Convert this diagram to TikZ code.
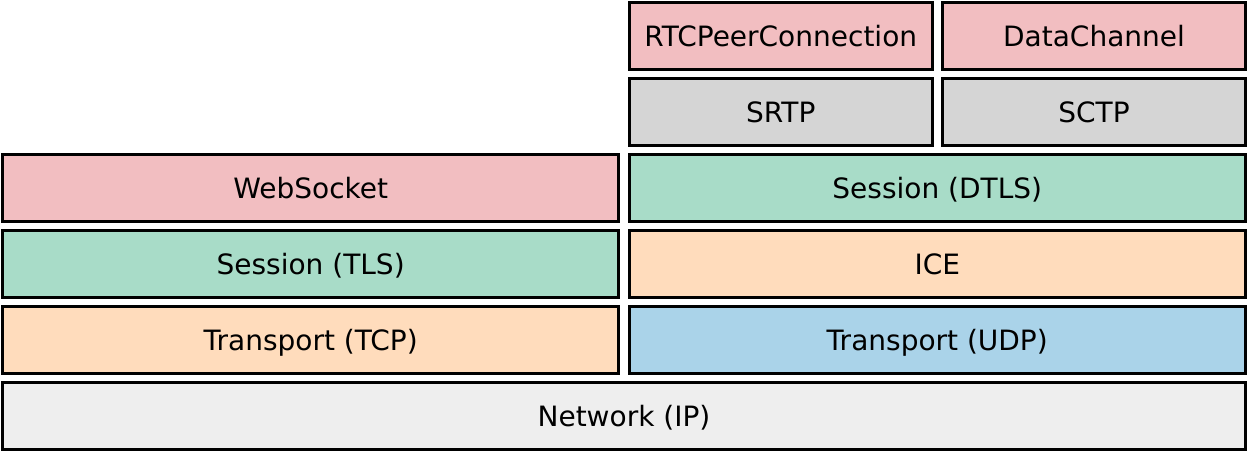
\documentclass[tikz,border=0pt]{standalone}
\usepackage{fontspec}
\setmainfont{DejaVu Sans}
\definecolor{cpink}{HTML}{F2BEC1}
\definecolor{cgray}{HTML}{D5D5D5}
\definecolor{cgreen}{HTML}{A8DCC8}
\definecolor{cpeach}{HTML}{FFDCBC}
\definecolor{cblue}{HTML}{AAD3E9}
\definecolor{clight}{HTML}{EEEEEE}
\begin{document}
\begin{tikzpicture}[x=1pt,y=-1pt,
  layer/.style={draw=black,line width=3pt,minimum height=67pt,inner sep=0pt,
    text height=20pt,text depth=0pt,font=\fontsize{28}{30}\selectfont},
  wide/.style={layer,minimum width=616.4pt},
  half/.style={layer,minimum width=303.3pt}]
\useasboundingbox (0,0) rectangle (1249,453);
% right top
\node[half,fill=cpink] (rtc) at (780.75,36) {RTCPeerConnection};
\node[half,fill=cpink] (dc) at (1094,36) {DataChannel};
\node[half,fill=cgray] (srtp) at (780.75,112) {SRTP};
\node[half,fill=cgray] (sctp) at (1094,112) {SCTP};
% left column
\node[wide,fill=cpink] (ws) at (310.65,188) {WebSocket};
\node[wide,fill=cgreen] (tls) at (310.65,264) {Session (TLS)};
\node[wide,fill=cpeach] (tcp) at (310.65,340) {Transport (TCP)};
% right column
\node[wide,fill=cgreen] (dtls) at (937.25,188) {Session (DTLS)};
\node[wide,fill=cpeach] (ice) at (937.25,264) {ICE};
\node[wide,fill=cblue] (udp) at (937.25,340) {Transport (UDP)};
% bottom
\node[layer,fill=clight,minimum width=1243pt] (ip) at (624,416) {Network (IP)};
\end{tikzpicture}
\end{document}
